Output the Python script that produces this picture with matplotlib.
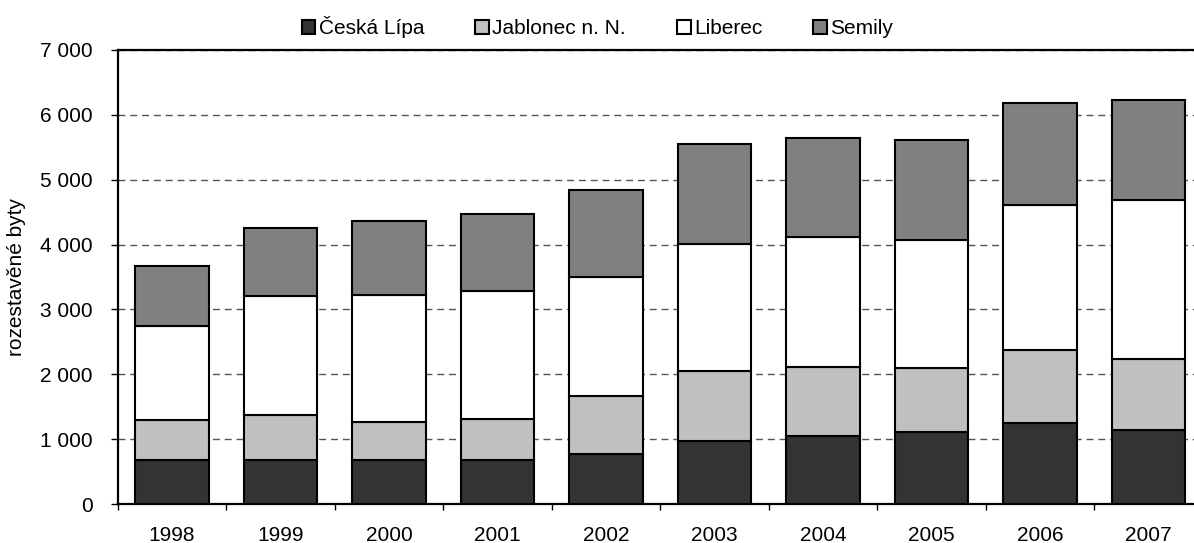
# Rozestavěné byty v okresech Libereckého kraje 1998–2007
import matplotlib
matplotlib.use("Agg")
import numpy as np
import matplotlib.pyplot as plt
from matplotlib.ticker import FuncFormatter, FixedLocator

# Data
years = ["1998", "1999", "2000", "2001", "2002", "2003", "2004", "2005", "2006", "2007"]
ceska_lipa = [675, 675, 686, 675, 778, 974, 1052, 1108, 1242, 1134]
jablonec = [619, 696, 577, 629, 887, 1083, 1061, 995, 1134, 1103]
liberec = [1443, 1835, 1959, 1980, 1830, 1947, 2004, 1967, 2229, 2445]
semily = [933, 1054, 1146, 1187, 1341, 1542, 1531, 1542, 1573, 1552]

series = [
    ("Česká Lípa", ceska_lipa, "#333333"),
    ("Jablonec n. N.", jablonec, "#c0c0c0"),
    ("Liberec", liberec, "#ffffff"),
    ("Semily", semily, "#808080"),
]

plt.rcParams["font.family"] = ["Liberation Sans", "DejaVu Sans"]


def main():
    fig = plt.figure(figsize=(11.94, 5.43), dpi=100)
    # osa přesahuje vpravo za okraj obrázku (jako v originále)
    ax = fig.add_axes([117.7 / 1194, 39 / 543, 1085 / 1194, 454 / 543])

    x = np.arange(len(years))
    bottom = np.zeros(len(years))
    handles = []
    for name, vals, color in series:
        b = ax.bar(x, vals, width=0.676, bottom=bottom, color=color,
                   edgecolor="black", linewidth=1.5, label=name, zorder=3)
        handles.append(b)
        bottom += np.array(vals)

    ax.set_xlim(-0.5, len(years) - 0.5)
    ax.set_ylim(0, 7000)
    ax.set_yticks(range(0, 7001, 1000))
    ax.yaxis.set_major_formatter(FuncFormatter(lambda v, p: f"{int(v):,}".replace(",", " ")))

    # popisky let uprostřed, značky mezi kategoriemi
    ax.set_xticks(x)
    ax.set_xticklabels(years)
    ax.xaxis.set_minor_locator(FixedLocator(np.arange(-0.5, len(years), 1.0)))
    ax.tick_params(axis="x", which="major", length=0, pad=16, labelsize=15)
    ax.tick_params(axis="x", which="minor", length=4.5, width=1, direction="out", color="black")
    ax.tick_params(axis="y", length=5, width=1, pad=13, labelsize=15)

    ax.yaxis.grid(True, linestyle=(0, (5, 3.5)), color="#555555", linewidth=1, zorder=0)
    ax.set_axisbelow(True)

    for side in ["left", "top", "bottom"]:
        ax.spines[side].set_linewidth(1.6)
        ax.spines[side].set_color("black")
    ax.spines["right"].set_visible(False)

    ax.set_ylabel("rozestavěné byty", fontsize=15, labelpad=10)

    fig.legend(handles=handles, loc="center", bbox_to_anchor=(0.5004, 0.950),
               ncol=4, frameon=False, fontsize=15, handlelength=0.65, handleheight=0.65,
               handletextpad=0.17, columnspacing=2.45)

    fig.savefig("out.png", dpi=100)
    plt.close(fig)


if __name__ == "__main__":
    main()
